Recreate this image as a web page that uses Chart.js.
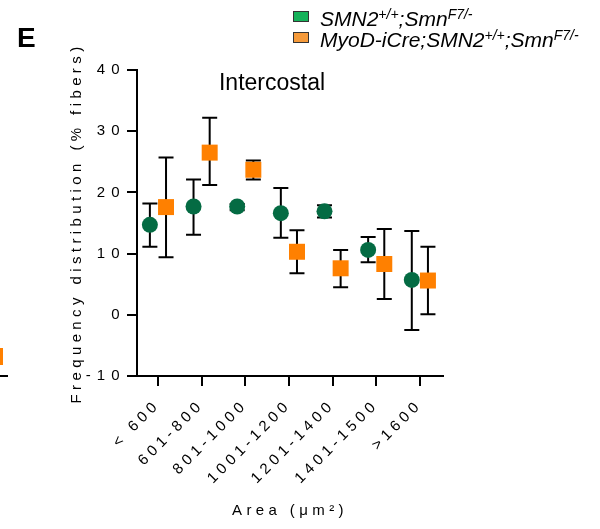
<!DOCTYPE html>
<html>
<head>
<meta charset="utf-8">
<script src="https://cdn.jsdelivr.net/npm/chart.js@4.4.1/dist/chart.umd.min.js"></script>
<style>
  body { margin: 0; background: #fff; }
  #wrap { position: relative; width: 600px; height: 529px; font-family: "Liberation Sans", Arial, sans-serif; color: #000; }
  #chart { position: absolute; left: 0; top: 0; }
  .panel { position: absolute; left: 17px; top: 21px; font-weight: bold; font-size: 28px; line-height: 34px; }
  .legend { position: absolute; left: 293px; top: 8px; font-size: 21px; font-style: italic; }
  .legend div { position: relative; height: 21px; line-height: 21px; white-space: nowrap; padding-left: 27px; }
  .legend sup { font-size: 14px; line-height: 0; vertical-align: 7px; }
  .legend .sw { position: absolute; left: 0; top: 3px; width: 14px; height: 9px; border: 1px solid #333; }
  .frag { position: absolute; }
</style>
</head>
<body>
<div id="wrap">
  <canvas id="chart" width="600" height="529"></canvas>
  <div class="panel">E</div>
  <div class="legend">
    <div><span class="sw" style="background:#16b25a"></span>SMN2<sup>+/+</sup>;Smn<sup>F7/-</sup></div>
    <div><span class="sw" style="background:#f59a3a"></span>MyoD-iCre;SMN2<sup>+/+</sup>;Smn<sup>F7/-</sup></div>
  </div>
  <div class="frag" style="left:0;top:348px;width:3px;height:17px;background:#ff8000"></div>
  <div class="frag" style="left:0;top:375px;width:8px;height:2px;background:#000"></div>
</div>
<script>
// area bins
const categories = ['< 600', '601-800', '801-1000', '1001-1200', '1201-1400', '1401-1500', '>1600'];
const yTicks = [-10, 0, 10, 20, 30, 40];

// SMN2+/+;SmnF7/-
const ctrlMean = [14.7, 17.7, 17.7, 16.6, 16.9, 10.6, 5.7];
const ctrlHigh = [18.2, 22.1, 18.1, 20.7, 17.9, 12.7, 13.7];
const ctrlLow = [11.1, 13.1, 17.1, 12.6, 15.9, 8.6, -2.5];

// MyoD-iCre;SMN2+/+;SmnF7/-
const myodMean = [17.6, 26.5, 23.7, 10.3, 7.6, 8.3, 5.6];
const myodHigh = [25.7, 32.2, 25.2, 13.8, 10.6, 14.0, 11.1];
const myodLow = [9.4, 21.2, 22.1, 6.8, 4.5, 2.6, 0.1];

const family = '"Liberation Sans", Arial, sans-serif';
const shift = 0.185; // groups sit either side of each tick

const errorBars = {
  id: 'errorBars',
  beforeDatasetsDraw(chart) {
    const ctx = chart.ctx;
    const y = chart.scales.y;
    ctx.save();
    ctx.strokeStyle = '#000';
    ctx.lineWidth = 2;
    chart.data.datasets.forEach((ds, di) => {
      chart.getDatasetMeta(di).data.forEach((pt, i) => {
        const top = y.getPixelForValue(ds.high[i]);
        const bot = y.getPixelForValue(ds.low[i]);
        ctx.beginPath();
        ctx.moveTo(pt.x, top); ctx.lineTo(pt.x, bot);
        ctx.moveTo(pt.x - 7.5, top); ctx.lineTo(pt.x + 7.5, top);
        ctx.moveTo(pt.x - 7.5, bot); ctx.lineTo(pt.x + 7.5, bot);
        ctx.stroke();
      });
    });
    ctx.restore();
  }
};

// axis text is letter-spaced (y tick labels a bit more), the panel title is not
const textStyle = {
  id: 'textStyle',
  beforeUpdate(chart) { chart.ctx.letterSpacing = '4.4px'; },
  beforeDraw(chart) { chart.ctx.letterSpacing = '4.4px'; },
  afterDatasetsDraw(chart) { chart.ctx.letterSpacing = '6px'; },
  afterDraw(chart) {
    const ctx = chart.ctx;
    ctx.save();
    ctx.letterSpacing = '0px';
    ctx.font = '23px ' + family;
    ctx.fillStyle = '#000';
    ctx.textAlign = 'center';
    ctx.textBaseline = 'alphabetic';
    ctx.fillText('Intercostal', chart.chartArea.left + 135, chart.chartArea.top + 20);
    ctx.restore();
  }
};

new Chart(document.getElementById('chart'), {
  type: 'scatter',
  data: {
    datasets: [
      {
        label: 'SMN2+/+;SmnF7/-',
        data: ctrlMean.map((v, i) => ({ x: i - shift, y: v })),
        high: ctrlHigh,
        low: ctrlLow,
        pointStyle: 'circle',
        pointRadius: 8,
        pointHoverRadius: 8,
        backgroundColor: '#046b43',
        borderWidth: 0
      },
      {
        label: 'MyoD-iCre;SMN2+/+;SmnF7/-',
        data: myodMean.map((v, i) => ({ x: i + shift, y: v })),
        high: myodHigh,
        low: myodLow,
        pointStyle: 'rect',
        pointRadius: 11.3,
        pointHoverRadius: 11.3,
        backgroundColor: '#ff8000',
        borderWidth: 0
      }
    ]
  },
  plugins: [errorBars, textStyle],
  options: {
    responsive: false,
    animation: false,
    layout: { padding: { left: 0, right: 157, top: 70, bottom: 0 } },
    plugins: { legend: { display: false }, tooltip: { enabled: false } },
    scales: {
      x: {
        type: 'linear',
        min: -0.48,
        max: 6.53,
        afterBuildTicks: s => { s.ticks = categories.map((c, i) => ({ value: i })); },
        afterFit: s => { s.height = 153; },
        grid: { drawOnChartArea: false, tickLength: 10, lineWidth: 2, color: '#000' },
        border: { color: '#000', width: 2 },
        ticks: {
          autoSkip: false, minRotation: 45, maxRotation: 45, padding: 10, color: '#000',
          font: { size: 15, family },
          callback: v => categories[Math.round(v)]
        },
        title: { display: true, text: 'Area (μm²)', color: '#000', font: { size: 15, family }, padding: { top: 0, bottom: 9 } }
      },
      y: {
        min: -10,
        max: 40,
        afterBuildTicks: s => { s.ticks = yTicks.map(v => ({ value: v })); },
        afterFit: s => { s.width = 137; },
        grid: { drawOnChartArea: false, tickLength: 10, lineWidth: 2, color: '#000' },
        border: { color: '#000', width: 2 },
        ticks: { z: 1, padding: 1.5, color: '#000', font: { size: 15, family } },
        title: { display: true, text: 'Frequency distribution (% fibers)', color: '#000', font: { size: 15, family }, padding: { top: 68, bottom: 0 } }
      }
    }
  }
});
</script>
</body>
</html>
